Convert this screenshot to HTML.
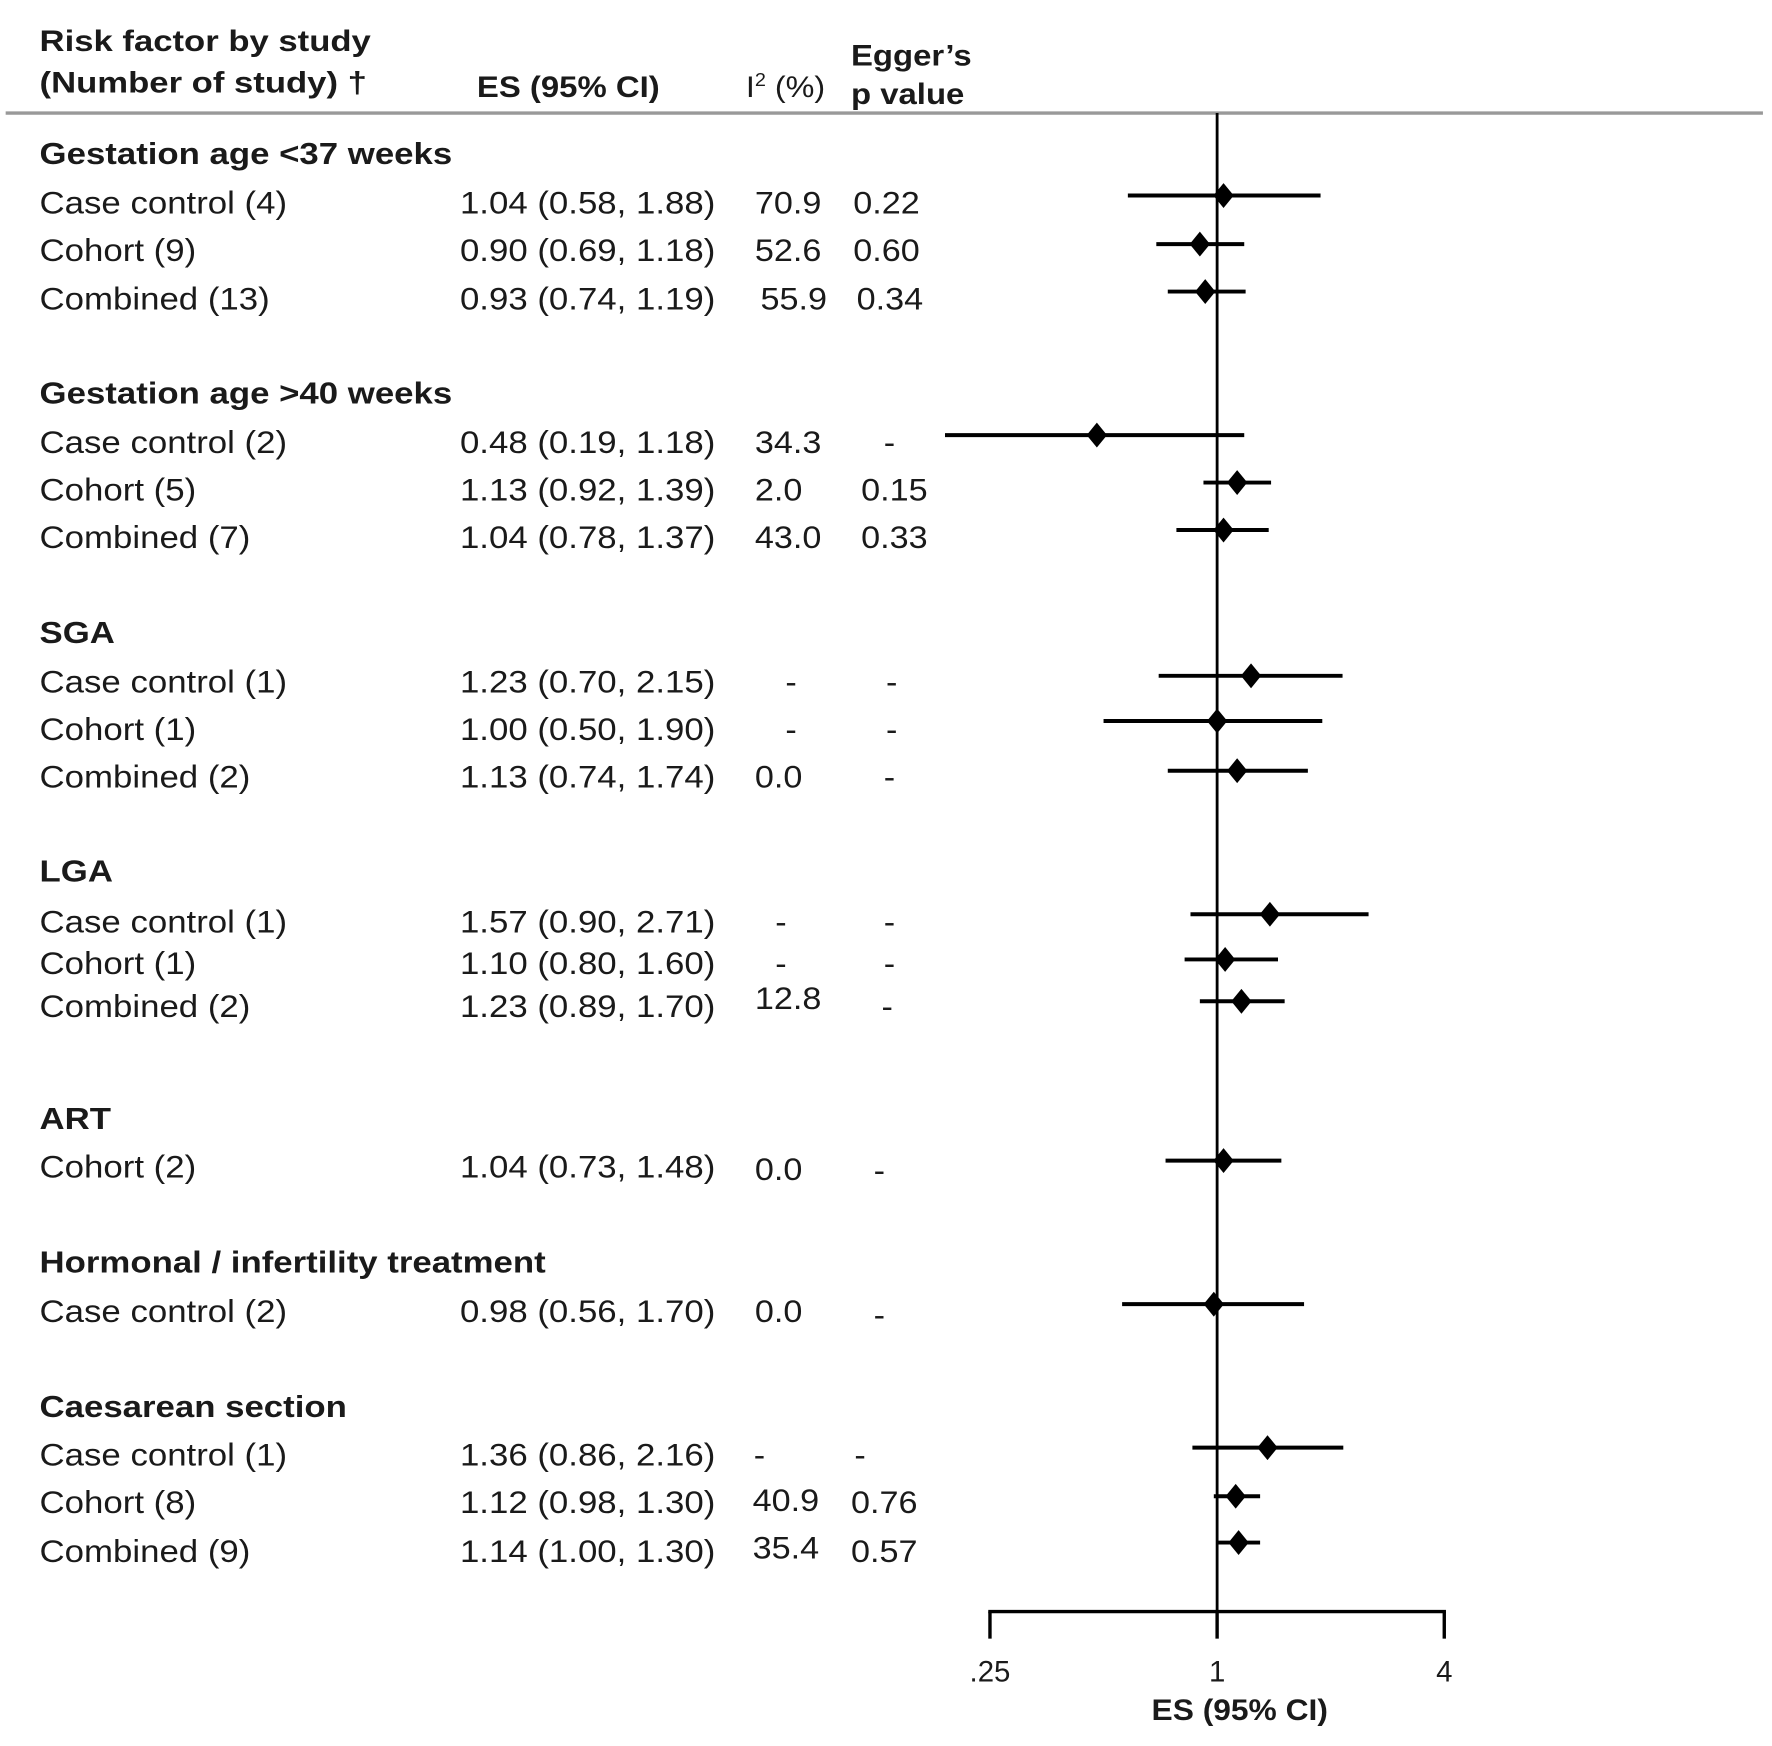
<!DOCTYPE html>
<html><head><meta charset="utf-8"><style>
html,body{margin:0;padding:0;background:#fff;}
svg{display:block;}
text{font-family:"Liberation Sans",Arial,sans-serif;fill:#1a1a1a;}
.b{font-weight:bold;}
</style></head><body>
<svg id="plot" width="1772" height="1746" viewBox="0 0 1568 1545" xmlns="http://www.w3.org/2000/svg">
<g>
<text class="b" font-size="26" transform="translate(35,45) scale(1.18,1)">Risk factor by study</text>
<text class="b" font-size="26" transform="translate(35,82) scale(1.18,1)">(Number of study) †</text>
<text class="b" font-size="26" transform="translate(422,86) scale(1.12,1)">ES (95% CI)</text>
<text font-size="26" transform="translate(660,86) scale(1.1,1)">I<tspan font-size="16" dy="-10">2</tspan><tspan dy="10"> (%)</tspan></text>
<text class="b" font-size="26" transform="translate(753,58) scale(1.12,1)">Egger’s</text>
<text class="b" font-size="26" transform="translate(753,92) scale(1.12,1)">p value</text>
</g>
<line x1="5" y1="100" x2="1560" y2="100" stroke="#999" stroke-width="3"/>
<g id="rows"></g>
<g id="marks"></g>
<g id="axis"></g>
</svg>
<script>
const groups = ["Gestation age <37 weeks","Gestation age >40 weeks","SGA","LGA","ART","Hormonal / infertility treatment","Caesarean section"];
const groupY = [136,348,560,771,990,1117,1245];
const labels = ["Case control (4)","Cohort (9)","Combined (13)","Case control (2)","Cohort (5)","Combined (7)","Case control (1)","Cohort (1)","Combined (2)","Case control (1)","Cohort (1)","Combined (2)","Cohort (2)","Case control (2)","Case control (1)","Cohort (8)","Combined (9)"];
const esText = ["1.04 (0.58, 1.88)","0.90 (0.69, 1.18)","0.93 (0.74, 1.19)","0.48 (0.19, 1.18)","1.13 (0.92, 1.39)","1.04 (0.78, 1.37)","1.23 (0.70, 2.15)","1.00 (0.50, 1.90)","1.13 (0.74, 1.74)","1.57 (0.90, 2.71)","1.10 (0.80, 1.60)","1.23 (0.89, 1.70)","1.04 (0.73, 1.48)","0.98 (0.56, 1.70)","1.36 (0.86, 2.16)","1.12 (0.98, 1.30)","1.14 (1.00, 1.30)"];
const estimates = [1.04,0.90,0.93,0.48,1.13,1.04,1.23,1.00,1.13,1.38,1.05,1.16,1.04,0.98,1.36,1.12,1.14];
const lower = [0.58,0.69,0.74,0.19,0.92,0.78,0.70,0.50,0.74,0.85,0.82,0.90,0.73,0.56,0.86,0.98,1.00];
const upper = [1.88,1.18,1.19,1.18,1.39,1.37,2.15,1.90,1.74,2.52,1.45,1.51,1.48,1.70,2.16,1.30,1.30];
const i2 = ["70.9","52.6","55.9","34.3","2.0","43.0","-","-","0.0","-","-","12.8","0.0","0.0","-","40.9","35.4"];
const egger = ["0.22","0.60","0.34","-","0.15","0.33","-","-","-","-","-","-","-","-","-","0.76","0.57"];
const rowY = [179,221,264,391,433,475,603,645,687,815,852,890,1032,1160,1287,1329,1372];
const markY = [173,216,258,385,427,469,598,638,682,809,849,886,1027,1154,1281,1324,1365];
const i2X = [668,668,673,668,668,668,695,695,668,686,686,668,668,668,667,666,666];
const i2Yoff = [0,0,0,0,0,0,0,0,0,0,0,-7,2,0,0,-2,-3];
const eggX = [755,755,758,782,762,762,784,784,782,782,782,780,773,773,756,753,753];
const ticks = [0.25,1,4];
const tickLabels = [".25","1","4"];

const NS="http://www.w3.org/2000/svg";
function xs(v){return 1077+Math.log2(v)*100.5;}
function mk(tag,attrs,parent,txt){const e=document.createElementNS(NS,tag);for(const k in attrs)e.setAttribute(k,attrs[k]);if(txt!==undefined)e.textContent=txt;parent.appendChild(e);return e;}
function tx(x,y,size,sx,txt,cls,anchor){const a={'font-size':size,transform:`translate(${x},${y}) scale(${sx},1)`};if(cls)a['class']=cls;if(anchor)a['text-anchor']=anchor;return mk('text',a,null||curParent,txt);}
let curParent;
const rows=document.getElementById('rows'),marks=document.getElementById('marks'),axis=document.getElementById('axis');
curParent=rows;
groups.forEach((g,i)=>{
  const t=tx(35,groupY[i]+9,27,1.14,g,'b');
  
  
});
labels.forEach((l,i)=>{
  curParent=rows;
  const y=rowY[i]+10;
  const a=tx(35,y,28,1.1,l);
  
  
  const b=tx(407,y,28,1.1,esText[i]);
  
  
  const c=tx(i2X[i],y+i2Yoff[i],28,1.08,i2[i]);
  
  
  const d=tx(eggX[i],y+(i===12||i===13?3:0),28,1.08,egger[i]);
  
  
  const my=markY[i];
  const ln=mk('line',{x1:xs(lower[i]),x2:xs(upper[i]),y1:my,y2:my,stroke:'#000','stroke-width':3.5},marks);
  
  
  const cx=xs(estimates[i]);
  const p=mk('polygon',{points:`${cx-9},${my} ${cx},${my-11} ${cx+9},${my} ${cx},${my+11}`,fill:'#000'},marks);
  
  
});
const ref=mk('line',{x1:xs(1),x2:xs(1),y1:100,y2:1426,stroke:'#000','stroke-width':2.5},marks);


const al=mk('line',{x1:xs(ticks[0])-1.5,x2:xs(ticks[ticks.length-1])+1.5,y1:1426,y2:1426,stroke:'#000','stroke-width':3},axis);


curParent=axis;
ticks.forEach((v,i)=>{
  const tk=mk('line',{x1:xs(v),x2:xs(v),y1:1426,y2:1450,stroke:'#000','stroke-width':3},axis);
  
  
  const tl=tx(xs(v),1488,26,1.0,tickLabels[i],null,'middle');
  
  
});
const at=tx(1097,1522,26,1.08,"ES (95% CI)",'b','middle');


</script>
</body></html>
